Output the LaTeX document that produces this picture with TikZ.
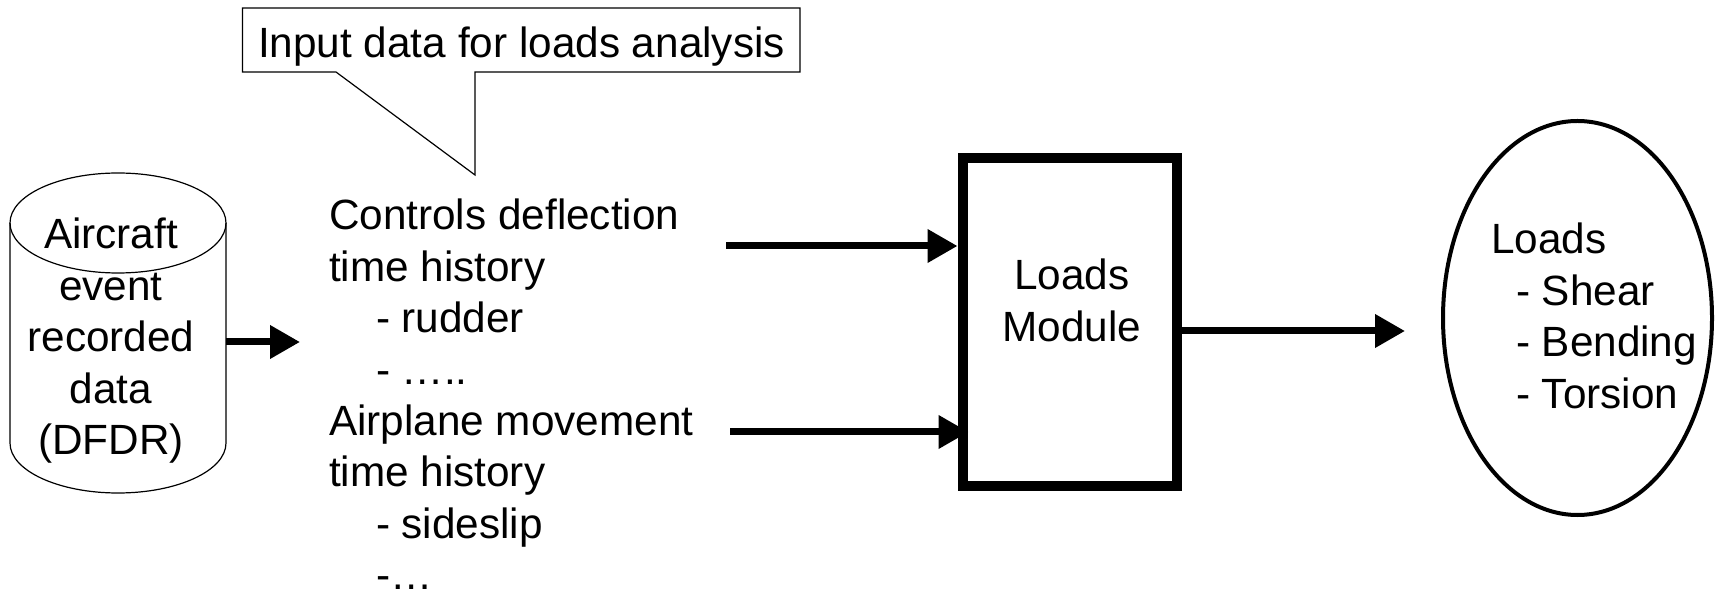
\documentclass[tikz,border=0pt]{standalone}
\usepackage{fontspec}
\setmainfont{Liberation Sans}
\usetikzlibrary{arrows.meta,shapes.geometric,calc}

\begin{document}
\begin{tikzpicture}[x=0.5pt,y=-0.5pt,
  txt/.style={inner sep=0pt, outer sep=0pt, font=\fontsize{21.15pt}{25.7pt}\selectfont},
  thin line/.style={line width=0.6pt},
  flow/.style={line width=3.5pt, -{Triangle[length=15pt,width=16pt]}},
]
\useasboundingbox (0,0) rectangle (1717,592);

% speech balloon with its pointer
\node[txt, anchor=base] (cap) at (521.5,58) {Input data for loads analysis};
\coordinate (cap tip) at (475,175);
\draw[thin line] (242.5,8) -- (800,8) -- (800,72) -- (cap tip |- 0,72) -- (cap tip)
  -- (336,72) -- (242.5,72) -- cycle;

% recorded-data cylinder
\node[minimum width=108pt, minimum height=110pt, inner sep=0pt, outer sep=0pt] (db) at (118,333) {};
\draw[thin line] (db.north west) -- (db.south west)
  arc[start angle=180, end angle=0, x radius=108, y radius=50] -- (db.north east);
\draw[thin line] (db.north) ellipse[x radius=108, y radius=50];
\node[txt, align=center, anchor=north] (dbtxt) at (111,213)
  {\strut Aircraft\\event\\recorded\\data\\(DFDR)};

% input data list
\node[txt, align=left, anchor=north west] (inp) at (329,194)
  {\strut Controls deflection\\time history\\\hspace*{23.5pt}- rudder\\\hspace*{23.5pt}- …..\\
   Airplane movement\\time history\\\hspace*{23.5pt}- sideslip\\\hspace*{23.5pt}-…};

% loads module
\node[draw, line width=5pt, minimum width=107.25pt, minimum height=164pt, inner sep=0pt] (mod) at (1069.75,322) {};
\node[txt, align=center, anchor=north] (modtxt) at (1072,254) {\strut Loads\\Module};

% resulting loads
\node[draw, ellipse, line width=2pt, minimum width=134.5pt, minimum height=197pt, inner sep=0pt] (res) at (1577.5,318) {};
\node[txt, align=left, anchor=north west] (restxt) at (1491,218)
  {\strut Loads\\\hspace*{12.5pt}- Shear\\\hspace*{12.5pt}- Bending\\\hspace*{12.5pt}- Torsion};

% flow arrows
\coordinate (inp in) at (300,342);
\draw[flow] (db.east |- inp in) -- (inp in);
\coordinate (ctl) at (726,246);
\draw[flow] (ctl) -- (mod.west |- ctl);
\coordinate (mov) at (730,432);
\draw[flow] (mov) -- ($(mod.west |- mov)+(11,0)$);
\coordinate (out tip) at (1405,331);
\draw[flow] (mod.east |- out tip) -- (out tip);
\end{tikzpicture}
\end{document}
